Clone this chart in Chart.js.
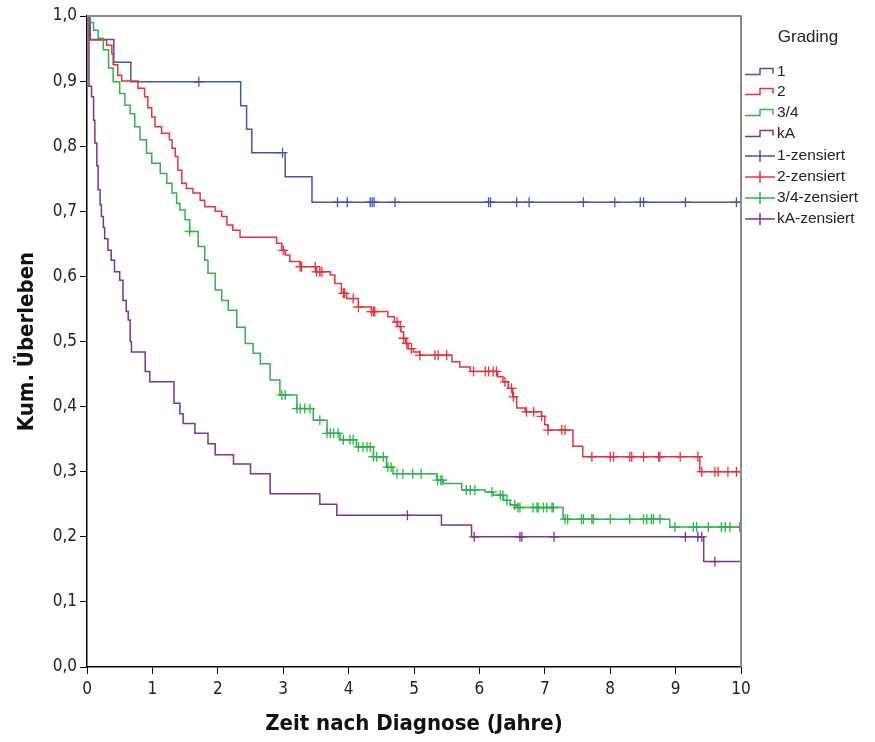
<!DOCTYPE html>
<html>
<head>
<meta charset="utf-8">
<script src="https://cdn.jsdelivr.net/npm/chart.js@4/dist/chart.umd.min.js"></script>
<style>
  html, body { margin: 0; padding: 0; background: #fff; }
  #wrap { width: 875px; height: 742px; }
</style>
</head>
<body>
<div id="wrap"><canvas id="canvas"></canvas></div>
<script>
// Kaplan-Meier: Zeitpunkte (Jahre) und kumuliertes Überleben je Grading-Gruppe
const gradeLabels = ['1', '2', '3/4', 'kA'];
const gradeColors = ['#3e58ac', '#e3343a', '#2db34a', '#7d3391'];

const timesG1 = [0, 0.05, 0.41, 0.67, 2.35, 2.44, 2.52, 3.03, 3.44, 10];
const survG1 = [1.0, 0.964, 0.929, 0.899, 0.862, 0.826, 0.790, 0.753, 0.714, 0.714];
const censG1 = [1.71, 2.99, 3.83, 3.98, 4.33, 4.36, 4.39, 4.71, 6.14, 6.17, 6.57, 6.76, 7.59, 8.07, 8.46, 8.51, 9.15, 9.93];

const timesG2 = [0, 0.04, 0.30, 0.38, 0.40, 0.47, 0.53, 0.78, 0.88, 0.93, 0.99, 1.04, 1.14, 1.26, 1.30, 1.35, 1.39, 1.45,
  1.52, 1.62, 1.73, 1.80, 1.96, 2.06, 2.14, 2.23, 2.34, 2.90, 2.98, 3.03, 3.10, 3.26, 3.51, 3.72, 3.79, 3.89, 3.97, 4.15,
  4.35, 4.60, 4.70, 4.75, 4.80, 4.84, 4.87, 4.91, 4.99, 5.09, 5.58, 5.70, 5.86, 6.28, 6.36, 6.44, 6.51, 6.57, 6.70, 6.95,
  7.00, 7.05, 7.43, 7.58, 9.37, 10];
const survG2 = [1.0, 0.963, 0.955, 0.942, 0.925, 0.909, 0.900, 0.889, 0.876, 0.859, 0.845, 0.830, 0.820, 0.810, 0.797, 0.784, 0.763, 0.743,
  0.735, 0.728, 0.717, 0.707, 0.700, 0.692, 0.679, 0.671, 0.660, 0.651, 0.640, 0.633, 0.623, 0.615, 0.607, 0.602, 0.589, 0.574, 0.566, 0.553,
  0.546, 0.538, 0.530, 0.523, 0.515, 0.505, 0.497, 0.489, 0.484, 0.479, 0.469, 0.461, 0.454, 0.446, 0.438, 0.428, 0.415, 0.398, 0.392, 0.385,
  0.372, 0.364, 0.339, 0.323, 0.300, 0.300];
const censG2 = [3.00, 3.26, 3.28, 3.49, 3.51, 3.56, 3.59, 3.92, 3.94, 4.07, 4.15, 4.35, 4.38, 4.40, 4.74, 4.79, 4.84, 4.89, 4.96, 5.09,
  5.32, 5.37, 5.50, 5.91, 6.09, 6.14, 6.21, 6.26, 6.39, 6.49, 6.52, 6.72, 6.83, 6.95, 7.05, 7.26, 7.31, 7.72, 8.00, 8.05, 8.30, 8.33,
  8.51, 8.74, 8.76, 9.07, 9.34, 9.40, 9.60, 9.65, 9.80, 9.93];

const timesG34 = [0, 0.05, 0.10, 0.17, 0.25, 0.33, 0.40, 0.50, 0.58, 0.66, 0.73, 0.81, 0.91, 0.99, 1.12, 1.22, 1.30, 1.37, 1.42,
  1.50, 1.57, 1.70, 1.80, 1.85, 1.96, 2.06, 2.16, 2.29, 2.42, 2.54, 2.65, 2.80, 2.95, 3.21, 3.46, 3.67, 3.87, 4.12, 4.38, 4.58,
  4.68, 5.35, 5.45, 5.73, 6.09, 6.21, 6.37, 6.47, 6.57, 7.28, 8.91, 10];
const survG34 = [1.0, 0.990, 0.978, 0.966, 0.948, 0.920, 0.899, 0.881, 0.863, 0.850, 0.830, 0.810, 0.789, 0.774, 0.758, 0.743, 0.728, 0.712, 0.702,
  0.687, 0.669, 0.646, 0.625, 0.605, 0.579, 0.563, 0.548, 0.522, 0.497, 0.482, 0.466, 0.441, 0.418, 0.397, 0.379, 0.359, 0.349, 0.338, 0.323, 0.307,
  0.297, 0.287, 0.282, 0.272, 0.269, 0.264, 0.256, 0.249, 0.245, 0.227, 0.215, 0.215];
const censG34 = [1.57, 2.98, 3.03, 3.21, 3.26, 3.33, 3.41, 3.56, 3.67, 3.72, 3.77, 3.84, 3.92, 4.02, 4.07, 4.15, 4.22, 4.28, 4.33, 4.38,
  4.43, 4.53, 4.60, 4.65, 4.74, 4.83, 4.98, 5.11, 5.36, 5.41, 5.43, 5.80, 5.86, 5.93, 6.19, 6.32, 6.36, 6.42, 6.54, 6.59, 6.62, 6.82,
  6.88, 6.90, 6.98, 7.03, 7.11, 7.13, 7.31, 7.35, 7.56, 7.59, 7.72, 7.74, 8.00, 8.30, 8.51, 8.56, 8.63, 8.66, 8.76, 8.99, 9.27, 9.32,
  9.50, 9.70, 9.76, 9.83, 9.98];

const timesKA = [0, 0.03, 0.07, 0.10, 0.12, 0.15, 0.17, 0.20, 0.22, 0.25, 0.27, 0.32, 0.37, 0.42, 0.50, 0.55, 0.60, 0.63, 0.66, 0.68,
  0.89, 0.96, 1.33, 1.42, 1.47, 1.65, 1.85, 1.96, 2.24, 2.50, 2.80, 3.56, 3.82, 5.42, 5.88, 9.43, 10];
const survKA = [1.0, 0.892, 0.876, 0.840, 0.805, 0.770, 0.733, 0.710, 0.692, 0.675, 0.658, 0.640, 0.625, 0.607, 0.594, 0.563, 0.546, 0.533, 0.500, 0.484,
  0.454, 0.438, 0.405, 0.389, 0.374, 0.359, 0.343, 0.326, 0.312, 0.297, 0.266, 0.250, 0.233, 0.218, 0.200, 0.162, 0.162];
const censKA = [4.90, 5.92, 6.62, 6.65, 7.14, 9.15, 9.34, 9.40, 9.60];

const yTicks = [0, 0.1, 0.2, 0.3, 0.4, 0.5, 0.6, 0.7, 0.8, 0.9, 1.0];
const xTicks = [0, 1, 2, 3, 4, 5, 6, 7, 8, 9, 10];

const groups = [
  [timesG1, survG1, censG1],
  [timesG2, survG2, censG2],
  [timesG34, survG34, censG34],
  [timesKA, survKA, censKA]
];

// Überlebensschätzer zum Zeitpunkt t (Treppenfunktion)
function survAt(times, surv, t) {
  let s = surv[0];
  for (let i = 0; i < times.length; i++) {
    if (times[i] <= t) s = surv[i];
  }
  return s;
}

const narrow = "'Liberation Sans Narrow', 'DejaVu Sans Condensed', Arial, sans-serif";
const sans = "'Liberation Sans', Arial, sans-serif";
const boldTitle = "'DejaVu Sans Condensed', 'Liberation Sans', Arial, sans-serif";

const datasets = [];
groups.forEach(function(g, i) {
  datasets.push({
    type: 'line',
    label: gradeLabels[i],
    data: g[0].map(function(t, k) { return { x: t, y: g[1][k] }; }),
    stepped: 'before',
    borderColor: gradeColors[i],
    borderWidth: 1.5,
    pointRadius: 0,
    fill: false,
    order: 4 - i
  });
});
groups.forEach(function(g, i) {
  datasets.push({
    type: 'scatter',
    label: gradeLabels[i] + '-zensiert',
    data: g[2].map(function(t) { return { x: t, y: survAt(g[0], g[1], t) }; }),
    pointStyle: 'cross',
    pointRadius: 5,
    pointBorderWidth: 1.3,
    borderColor: gradeColors[i],
    backgroundColor: gradeColors[i],
    order: 4 - i
  });
});

// Rahmen oben/rechts und Legende rechts neben dem Diagramm
const kmFrame = {
  id: 'kmFrame',
  afterDraw(chart) {
    const ctx = chart.ctx;
    const a = chart.chartArea;
    ctx.save();
    ctx.strokeStyle = '#8a8a8a';
    ctx.lineWidth = 2;
    ctx.beginPath();
    ctx.moveTo(a.left, a.top);
    ctx.lineTo(a.right, a.top);
    ctx.lineTo(a.right, a.bottom);
    ctx.stroke();

    ctx.fillStyle = '#222';
    ctx.textBaseline = 'middle';
    ctx.textAlign = 'center';
    ctx.font = '17px ' + sans;
    ctx.fillText('Grading', 808, 37);

    ctx.textAlign = 'left';
    ctx.font = '15.5px ' + sans;
    const rows = [72, 92, 113, 134, 156, 177, 198, 219];
    chart.data.datasets.forEach(function(ds, k) {
      const y = rows[k];
      ctx.strokeStyle = ds.borderColor;
      ctx.lineWidth = 1.5;
      ctx.beginPath();
      if (ds.type === 'line') {
        ctx.moveTo(745, y + 2.5);
        ctx.lineTo(760, y + 2.5);
        ctx.lineTo(760, y - 3.5);
        ctx.lineTo(773, y - 3.5);
        ctx.lineTo(773, y + 1.5);
      } else {
        ctx.moveTo(745, y);
        ctx.lineTo(775, y);
        ctx.moveTo(760, y - 6);
        ctx.lineTo(760, y + 6);
      }
      ctx.stroke();
      ctx.fillText(ds.label, 777, y);
    });
    ctx.restore();
  }
};

window.onload = function() {
  const ctx = document.getElementById('canvas').getContext('2d');
  window.kmChart = new Chart(ctx, {
    data: { datasets: datasets },
    options: {
      responsive: true,
      maintainAspectRatio: false,
      animation: false,
      layout: { padding: { left: 0, right: 134, top: 16, bottom: 0 } },
      plugins: { legend: { display: false }, tooltip: { enabled: false } },
      scales: {
        x: {
          type: 'linear',
          min: 0,
          max: 10,
          afterFit: function(scale) { scale.height = 75; },
          afterBuildTicks: function(scale) { scale.ticks = xTicks.map(function(v) { return { value: v }; }); },
          ticks: { color: '#222', padding: 5, font: { family: narrow, size: 17 } },
          grid: { drawOnChartArea: false, color: '#000', tickLength: 7 },
          border: { color: '#000', width: 1.5 },
          title: {
            display: true,
            text: 'Zeit nach Diagnose (Jahre)',
            color: '#111',
            font: { family: boldTitle, size: 22, weight: 'bold' },
            padding: { top: 0, bottom: 5 }
          }
        },
        y: {
          type: 'linear',
          min: 0,
          max: 1,
          afterFit: function(scale) { scale.width = 87; },
          afterBuildTicks: function(scale) { scale.ticks = yTicks.map(function(v) { return { value: v }; }); },
          ticks: {
            color: '#222',
            padding: 3,
            font: { family: narrow, size: 17 },
            callback: function(v) { return v.toFixed(1).replace('.', ','); }
          },
          grid: { drawOnChartArea: false, color: '#000', tickLength: 7 },
          border: { color: '#000', width: 1.5 },
          title: {
            display: true,
            text: 'Kum. Überleben',
            color: '#111',
            font: { family: boldTitle, size: 22, weight: 'bold' },
            padding: { top: 14, bottom: 0 }
          }
        }
      }
    },
    plugins: [kmFrame]
  });
};
</script>
</body>
</html>
